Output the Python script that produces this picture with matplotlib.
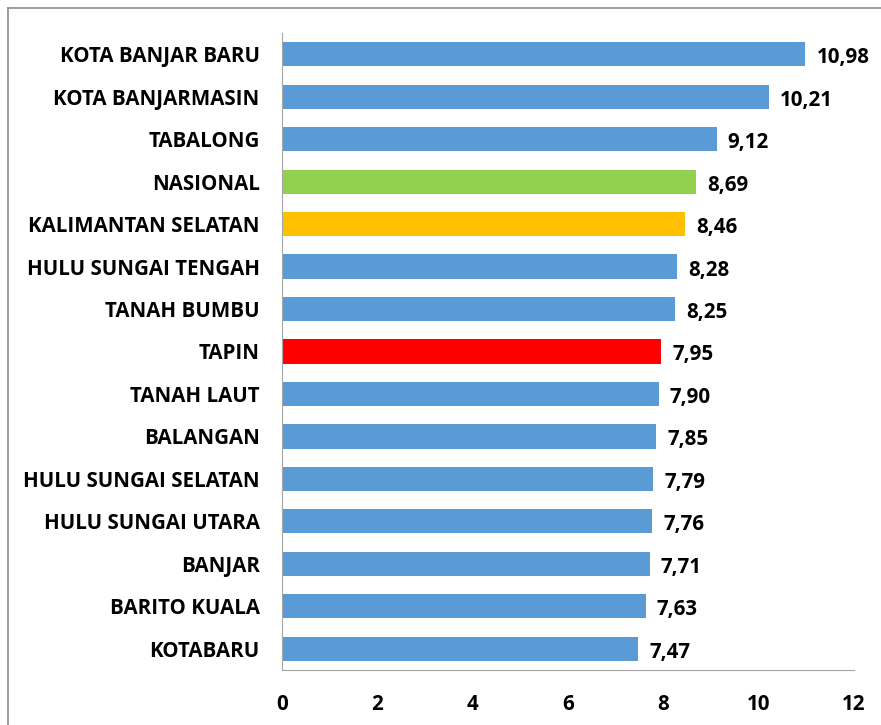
import numpy as np
from matplotlib import pyplot as plt
from matplotlib.lines import Line2D

#%% data
regions = ["KOTA BANJAR BARU", "KOTA BANJARMASIN", "TABALONG", "NASIONAL",
           "KALIMANTAN SELATAN", "HULU SUNGAI TENGAH", "TANAH BUMBU", "TAPIN",
           "TANAH LAUT", "BALANGAN", "HULU SUNGAI SELATAN", "HULU SUNGAI UTARA",
           "BANJAR", "BARITO KUALA", "KOTABARU"]
values = [10.98, 10.21, 9.12, 8.69, 8.46, 8.28, 8.25, 7.95, 7.90, 7.85,
          7.79, 7.76, 7.71, 7.63, 7.47]
colors = ["#5B9BD5"] * len(regions)
colors[3] = "#92D050"
colors[4] = "#FFC000"
colors[7] = "#FF0000"
xticks = [0, 2, 4, 6, 8, 10, 12]

#%% plot
plt.rcParams['font.family'] = ['Open Sans', 'DejaVu Sans']
fs = 14.8
fig = plt.figure(figsize=(8.81, 7.25), dpi=100)
ax = fig.add_axes([0.320, 0.0759, 0.6494, 0.8786])

y = np.arange(len(regions))
ax.barh(y, values, height=0.57, color=colors)
for yi, v in zip(y, values):
    ax.annotate(("%.2f" % v).replace(".", ","), (v, yi), xytext=(8, -2.5),
                textcoords="offset points", va="center", ha="left",
                fontsize=fs, fontweight="bold")

ax.set_ylim(len(regions) - 0.5, -0.5)
ax.set_xlim(0, 12)
ax.set_yticks(y)
ax.set_yticklabels(regions, fontsize=fs, fontweight="bold")
ax.set_xticks(xticks)
ax.set_xticklabels([str(t) for t in xticks], fontsize=fs, fontweight="bold")
ax.tick_params(length=0)
ax.tick_params(axis="x", pad=17)
ax.tick_params(axis="y", pad=16)
for s in ["top", "right"]:
    ax.spines[s].set_visible(False)
ax.spines["left"].set_color("#A6A6A6")
ax.spines["bottom"].set_color("#A6A6A6")

# outer frame (only top and left visible in the crop)
fig.add_artist(Line2D([0.0091, 0.0091], [0, 0.989], color="#8C8C8C", lw=1.2))
fig.add_artist(Line2D([0.0091, 1], [0.989, 0.989], color="#8C8C8C", lw=1.2))

plt.savefig("out.png", dpi=100)
